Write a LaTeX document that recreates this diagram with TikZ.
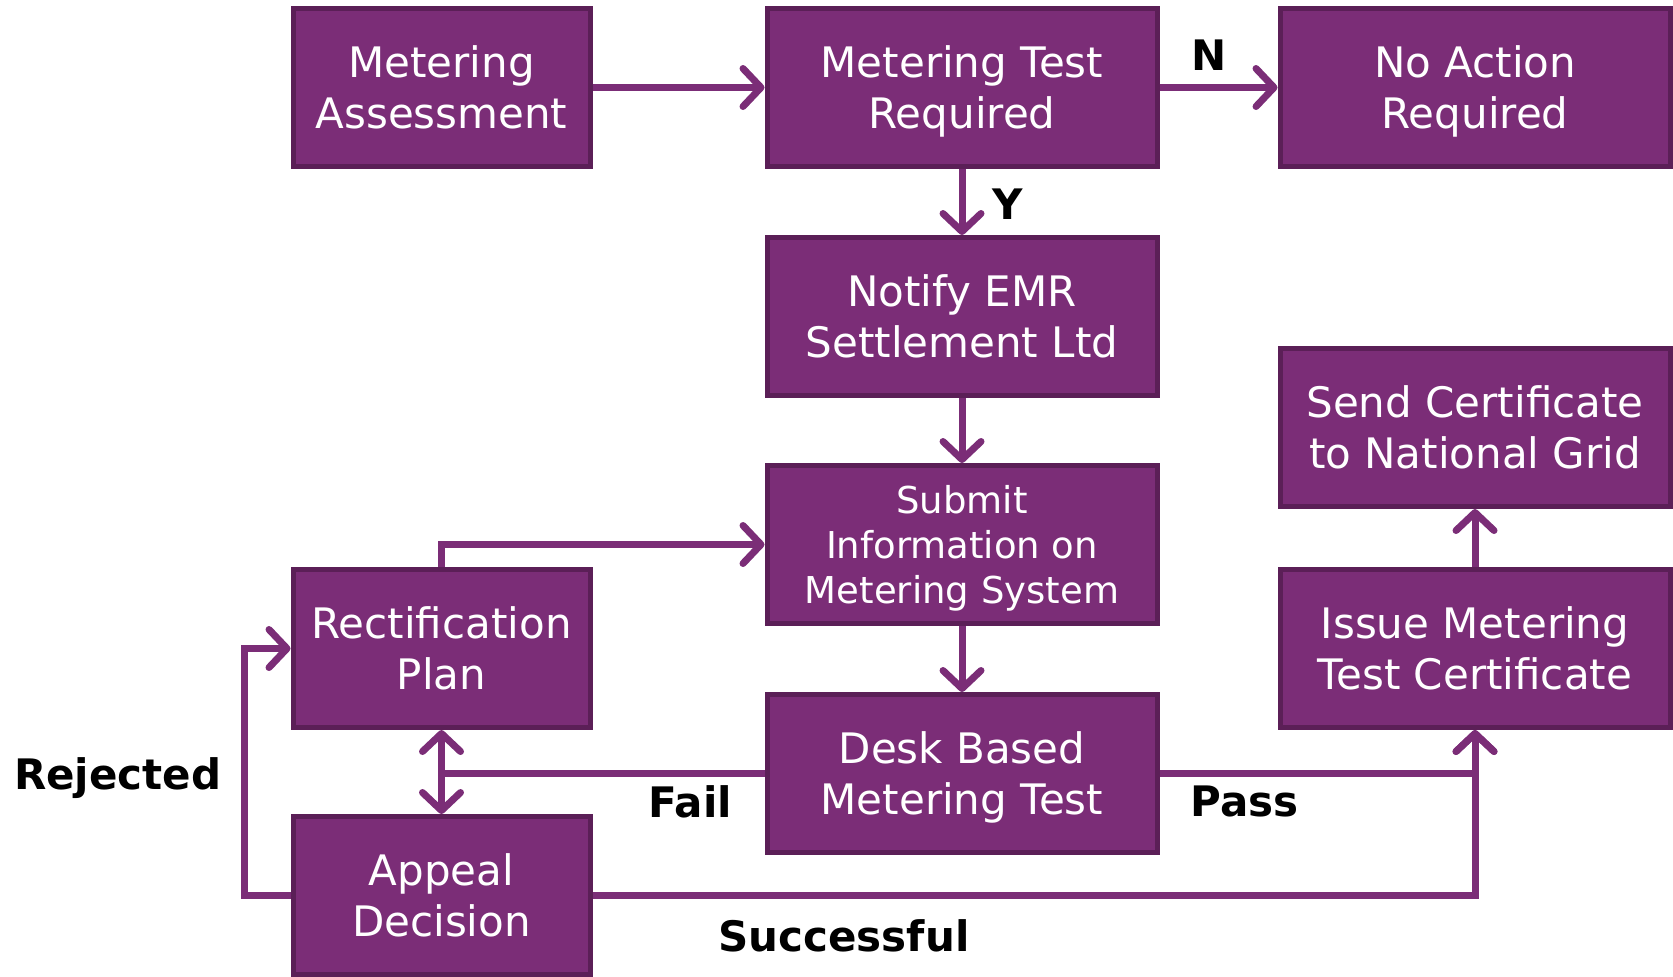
\documentclass[tikz,border=0pt]{standalone}
\usepackage{fontspec}
\setmainfont{DejaVu Sans}
\usepackage{tikz}
\usetikzlibrary{arrows.meta,positioning}
\definecolor{plum}{HTML}{7B2D77}
\definecolor{plumdark}{HTML}{5B1F57}
\tikzstyle{link} = [line width=3.5pt, draw=plum]
\tikzstyle{flow} = [link, ->]

\begin{document}
\begin{tikzpicture}
  [
    >={Straight Barb[length=9pt, width=19pt, round]},
    main node/.style={fill=plum, draw=plumdark, line width=2.5pt, text=white, align=center, inner sep=0pt, minimum height=79pt, text depth=0pt, font=\fontsize{21}{25.5}\selectfont},
    small/.style={main node, minimum width=148.5pt},
    wide/.style={main node, minimum width=195pt},
    lbl/.style={text=black, font=\fontsize{21}{25}\selectfont\bfseries},
  ]
  \useasboundingbox (0,0) rectangle (836.5pt,-488pt);
  % middle column
  \node [small] (assess) at (220.75pt,-43.75pt) {Metering\\Assessment};
  \node [wide, right=86pt of assess] (testreq) {Metering Test\\Required};
  \node [wide, right=59pt of testreq] (noaction) {No Action\\Required};
  \node [wide, below=33pt of testreq] (notify) {Notify EMR\\Settlement Ltd};
  \node [wide, below=32.5pt of notify, font=\fontsize{18.5}{22.7}\selectfont] (submit) {Submit\\Information on\\Metering System};
  \node [wide, below=33pt of submit] (desk) {Desk Based\\Metering Test};
  % left and right columns
  \node [small, below=199pt of assess] (rectif) {Rectification\\Plan};
  \node [small, below=42pt of rectif] (appeal) {Appeal\\Decision};
  \node [wide] (issue) at (noaction |- rectif) {Issue Metering\\Test Certificate};
  \node [wide, above=29pt of issue] (send) {Send Certificate\\to National Grid};

  \draw [flow] (assess) -- (testreq);
  \draw [flow] (testreq) -- node [lbl, above=3.5pt, pos=0.42] {N} (noaction);
  \draw [flow] (testreq) -- node [lbl, right=10pt, yshift=-1pt] {Y} (notify);
  \draw [flow] (notify) -- (submit);
  \draw [flow] (submit) -- (desk);
  \draw [flow] (rectif.north) |- (submit.west);
  \draw [link, <->] (rectif) -- (appeal);
  \draw [link] (desk.west) -- node [lbl, below=1pt, pos=0.23] {Fail} (desk.west -| rectif.south);
  \draw [flow] (desk.east) -- node [lbl, below=1pt, pos=0.27] {Pass} (desk.east -| issue.south) -- (issue.south);
  \draw [flow] (appeal.east) -- node [lbl, below=7pt, pos=0.285] {Successful} (appeal.east -| issue.south) -- (issue.south);
  \draw [flow] (appeal.west) -- ++(-23pt,0) |- node [lbl, left=6.5pt, pos=0.25, yshift=-3pt] {Rejected} (rectif.west);
  \draw [flow] (issue) -- (send);
\end{tikzpicture}
\end{document}
